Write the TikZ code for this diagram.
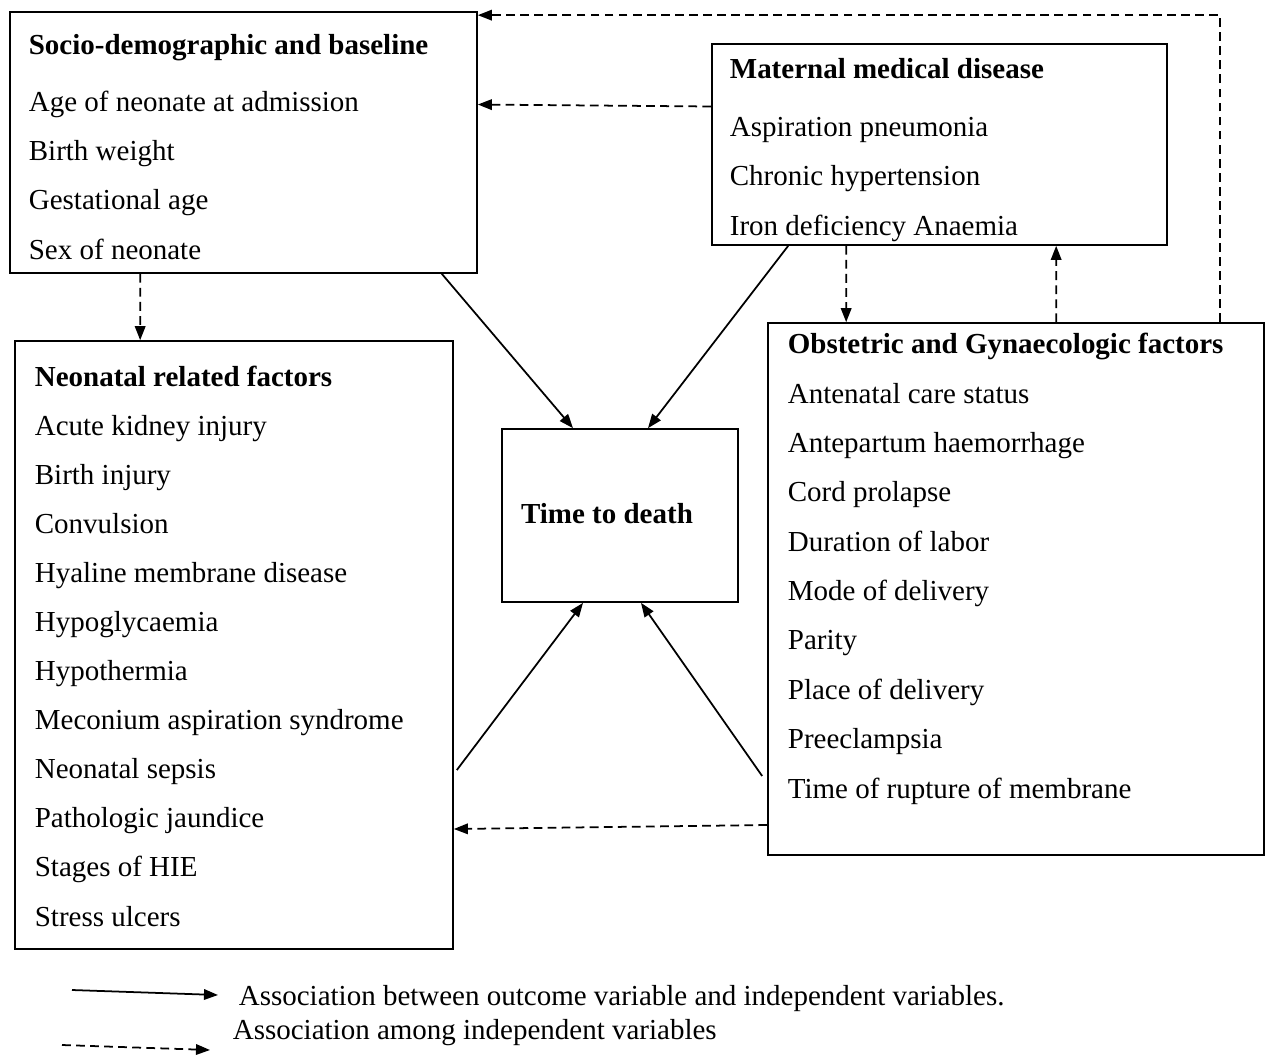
\documentclass[tikz,border=0pt]{standalone}
\usepackage{fontspec}
\setmainfont{Liberation Serif}
\usetikzlibrary{arrows.meta,positioning,calc}

\begin{document}
\begin{tikzpicture}[x=0.02cm, y=-0.02cm, line width=1pt,
    font=\fontsize{16.5}{27.9}\selectfont,
    box/.style={draw, rectangle, inner sep=0pt},
    txt/.style={align=left, inner sep=0pt, anchor=base west},
    sol/.style={-{Triangle[length=8pt, width=6pt]}},
    dsh/.style={-{Triangle[length=8pt, width=6pt]}, dash pattern=on 5pt off 3pt}]
  \useasboundingbox (0,0) rectangle (1272,1056);
  % boxes
  \node[box, minimum width=9.34cm, minimum height=5.22cm] (socio) at (243.5,142.5) {};
  \node[box, minimum width=9.10cm, minimum height=4.02cm] (maternal) at (939.5,144.5) {};
  \node[box, minimum width=8.76cm, minimum height=12.16cm] (neonatal) at (234,645) {};
  \node[box, minimum width=4.72cm, minimum height=3.46cm] (time) at (620,515.5) {};
  \node[box, minimum width=9.92cm, minimum height=10.64cm] (obstetric) at (1016,589) {};
  % texts (anchored at the baseline of their last line)
  \node[txt] (sociotxt) at (28,259) {\textbf{Socio-demographic and baseline}\\[5pt]
     Age of neonate at admission\\ Birth weight\\ Gestational age\\ Sex of neonate};
  \node[txt] (maternaltxt) at (729,235) {\textbf{Maternal medical disease}\\[5.5pt]
     Aspiration pneumonia\\ Chronic hypertension\\ Iron deficiency Anaemia};
  \node[txt] (neonataltxt) at (34,926) {\textbf{Neonatal related factors}\\
     Acute kidney injury\\ Birth injury\\ Convulsion\\ Hyaline membrane disease\\
     Hypoglycaemia\\ Hypothermia\\ Meconium aspiration syndrome\\ Neonatal sepsis\\
     Pathologic jaundice\\ Stages of HIE\\ Stress ulcers};
  \node[txt, font=\fontsize{16.5}{28.1}\selectfont] (obstetrictxt) at (787,798) {\textbf{Obstetric and Gynaecologic factors}\\
     Antenatal care status\\ Antepartum haemorrhage\\ Cord prolapse\\ Duration of labor\\
     Mode of delivery\\ Parity\\ Place of delivery\\ Preeclampsia\\ Time of rupture of membrane};
  \node[anchor=base, inner sep=0pt] (timetxt) at (607,523) {\textbf{Time to death}};
  % outcome associations
  \draw[sol] ($(socio.south east)+(-36,0)$) -- ($(time.north)+(-47,0)$);
  \draw[sol] ($(maternal.south west)+(77,0)$) -- ($(time.north)+(28,0)$);
  \draw[sol] ($(neonatal.east)+(3,125)$) -- ($(time.south)+(-37,0)$);
  \draw[sol] ($(obstetric.west)+(-5,187)$) -- ($(time.south)+(21,0)$);
  % associations among independent variables
  \draw[dsh] ($(maternal.west)+(0,-38)$) -- ($(socio.east)+(0,-38)$);
  \draw[dsh] ($(obstetric.north)+(204,0)$) |- ($(socio.north east)+(0,4)$);
  \draw[dsh] ($(socio.south west)+(131,0)$) -- ($(neonatal.north west)+(126,0)$);
  \draw[dsh] ($(maternal.south west)+(135,0)$) -- ($(obstetric.north west)+(79,0)$);
  \draw[dsh] ($(obstetric.north west)+(289,0)$) -- ($(maternal.south west)+(345,0)$);
  \draw[dsh] ($(obstetric.west)+(0,236)$) -- ($(neonatal.east)+(0,184)$);
  % legend
  \coordinate (solfrom) at (72,990);
  \coordinate (solto) at (218,995);
  \coordinate (dshfrom) at (62,1045);
  \coordinate (dshto) at (210,1050);
  \draw[sol] (solfrom) -- (solto);
  \draw[dsh] (dshfrom) -- (dshto);
  \node[anchor=base west, inner sep=0pt] (solleg) at (238,1005) {Association between outcome variable and independent variables.};
  \node[anchor=base west, inner sep=0pt] (dshleg) at (232,1039) {Association among independent variables};
\end{tikzpicture}
\end{document}
